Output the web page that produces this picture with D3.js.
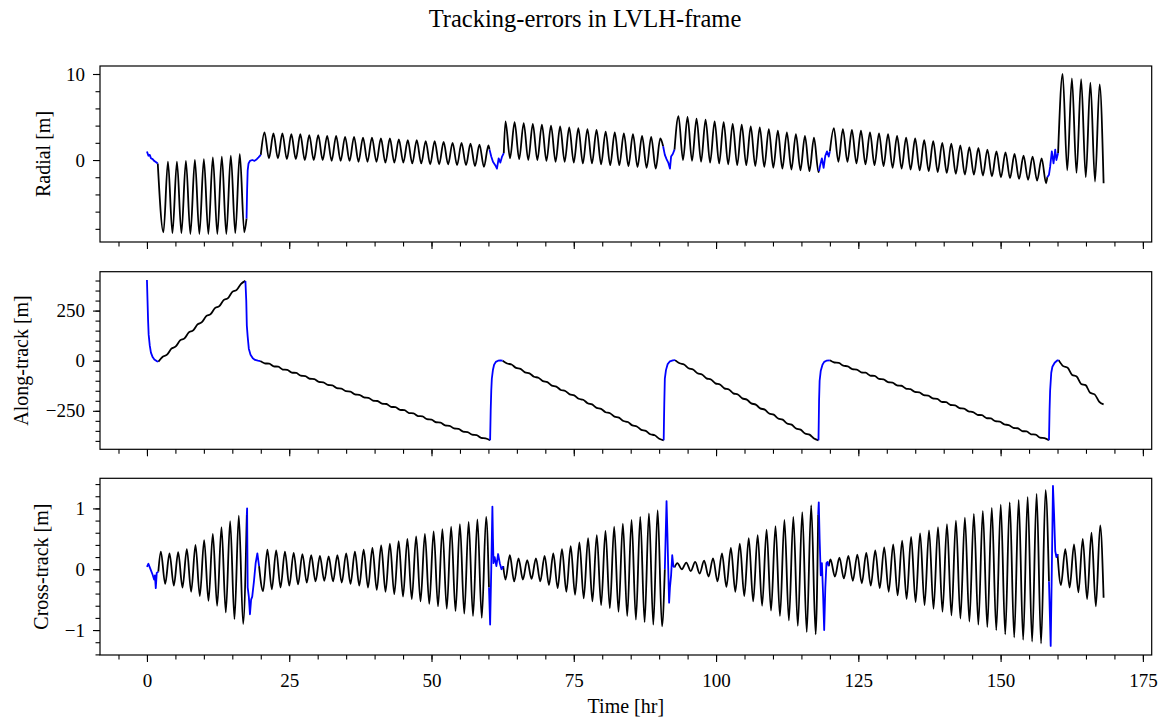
<!DOCTYPE html>
<html>
<head>
<meta charset="utf-8">
<script src="https://cdn.jsdelivr.net/npm/d3@7"></script>
<style>
body { margin: 0; background: #fff; }
svg { font-family: "Liberation Serif", "Times New Roman", serif; }
</style>
</head>
<body>
<svg id="chart" width="1163" height="720"></svg>
<script>
// ---- data ----
// time axis [hr]
var timeTicks = [0, 25, 50, 75, 100, 125, 150, 175];
var radialTicks = [0, 10];
var alongTicks = [-250, 0, 250];
var crossTicks = [-1, 0, 1];

// Radial [m]: blue stretches (manoeuvres) as [t, value]
var radialBlue = [
    [[0, 1.0], [0.26, 0.5], [0.5, 0.6], [0.7, 0.2], [1.0, 0.1], [1.26, -0.1], [1.5, -0.2], [1.9, -0.4]],
    [[17.5, -6.8], [17.6, -3.5], [17.7, -1.2], [17.85, -0.4], [18.1, -0.1], [18.5, 0.0], [18.9, -0.1], [19.3, 0.1], [19.6, 0.3], [20.0, 0.6]],
    [[60.2, 1.2], [60.5, 0.4], [60.8, -0.2], [61.2, -0.6], [61.5, -1.0], [61.8, 0.2], [62.1, -0.3], [62.4, 0.4], [62.7, 0.8]],
    [[90.7, 1.6], [91.0, 0.6], [91.3, 0.1], [91.6, -0.3], [91.9, -1.0], [92.1, 0.4], [92.4, 0.7], [92.7, 1.2]],
    [[118.1, -1.3], [118.3, -0.6], [118.6, 0.2], [118.9, -0.9], [119.2, 0.5], [119.5, 1.0], [119.8, 0.4], [120.0, 1.0]],
    [[158.2, -2.0], [158.5, -1.7], [158.7, -0.8], [159.0, 1.0], [159.3, -0.4], [159.6, 1.2], [159.8, 0.0], [160.1, 0.8]]
];
// time of first and last extremum of every black stretch
var radialTimes = [[2.9, 17.1], [20.65, 60.0], [63.0, 90.2], [93.4, 118.0], [120.7, 158.0], [160.9, 167.4]];
// successive peaks / troughs of every black stretch
var radialExtrema = [
    [-8.4, -0.2, -8.5, -0.2, -8.5, -0.1, -8.6, 0.0, -8.6, 0.1, -8.6, 0.3, -8.6, 0.4, -8.6, 0.5, -8.5, 0.7, -8.4],
    [3.2, 0.2, 3.1, 0.2, 3.1, 0.1, 3.0, 0.1, 3.0, 0.0, 2.9, 0.0, 2.9, 0.0, 2.8, -0.1, 2.8, -0.1, 2.7, -0.1, 2.7, -0.2, 2.6, -0.2, 2.6, -0.2,
     2.5, -0.3, 2.5, -0.3, 2.4, -0.3, 2.3, -0.4, 2.3, -0.4, 2.2, -0.5, 2.2, -0.5, 2.1, -0.5, 2.0, -0.6, 2.0, -0.6, 1.9, -0.7, 1.8, -0.8, 1.7],
    [4.5, 0.2, 4.4, 0.1, 4.3, 0.0, 4.2, 0.0, 4.1, -0.1, 4.0, -0.2, 3.9, -0.2, 3.8, -0.3, 3.7, -0.4, 3.6, -0.4, 3.5, -0.5, 3.3, -0.6,
     3.2, -0.6, 3.1, -0.7, 3.0, -0.8, 2.8, -0.9, 2.7, -1.0, 2.5],
    [5.1, 0.0, 5.0, -0.1, 4.8, -0.2, 4.7, -0.3, 4.5, -0.4, 4.4, -0.5, 4.2, -0.6, 4.1, -0.6, 3.9, -0.7, 3.8, -0.8, 3.6, -0.9, 3.4, -1.0,
     3.2, -1.1, 3.0, -1.2, 2.8, -1.3, 2.6, -1.4],
    [3.7, -0.2, 3.6, -0.2, 3.5, -0.4, 3.4, -0.5, 3.2, -0.6, 3.1, -0.7, 3.0, -0.9, 2.8, -1.0, 2.6, -1.1, 2.5, -1.2, 2.3, -1.3, 2.2, -1.4,
     2.0, -1.5, 1.9, -1.6, 1.7, -1.7, 1.5, -1.7, 1.4, -1.8, 1.2, -1.9, 1.0, -2.0, 0.9, -2.1, 0.7, -2.2, 0.5, -2.3, 0.4, -2.4, 0.2, -2.7],
    [10.0, -1.2, 9.5, -1.5, 9.4, -2.0, 9.0, -2.5, 8.8]
];
var radialLast = [168.1, -2.7];

// Along-track [m]
var alongBlue = [
    [[0, 403], [0.1, 300], [0.2, 200], [0.3, 130], [0.5, 75], [0.7, 40], [1.0, 18], [1.3, 6], [1.7, -2], [2.0, -5]],
    [[17.3, 398], [17.45, 300], [17.55, 175], [17.7, 120], [17.9, 60], [18.2, 30], [18.6, 12], [19.0, 4], [19.5, 0], [19.9, -2]],
    [[60.3, -397], [60.4, -250], [60.5, -150], [60.6, -90], [60.8, -45], [61.0, -20], [61.3, -6], [61.7, 0], [62.1, 2], [62.5, 0]],
    [[90.8, -397], [90.85, -300], [90.9, -220], [91.0, -90], [91.2, -47], [91.5, -17], [91.9, -3], [92.4, 2], [92.8, 3]],
    [[118.0, -397], [118.05, -300], [118.1, -200], [118.2, -100], [118.4, -50], [118.7, -20], [119.0, -6], [119.4, 0], [120.0, 2]],
    [[158.5, -397], [158.6, -250], [158.7, -150], [158.9, -60], [159.1, -30], [159.5, -10], [159.9, 0], [160.2, 3]]
];
var alongTimes = [[2.0, 17.3], [19.9, 60.3], [62.5, 90.8], [92.8, 118.0], [120.0, 158.5], [160.2, 168.1]];
// values every half orbit (small staircase on the drift)
var alongSteps = [
    [-5, 20, 30, 60, 71, 101, 111, 141, 151, 181, 192, 222, 232, 262, 272, 302, 312, 343, 353, 383, 398],
    [-2, -13, -15, -28, -30, -44, -46, -59, -61, -75, -77, -90, -92, -106, -108, -121, -123, -137, -139, -152, -154, -168, -170, -183, -185, -199,
     -201, -214, -216, -230, -232, -245, -247, -261, -263, -276, -278, -292, -294, -307, -309, -323, -325, -338, -340, -354, -356, -369, -371, -385, -387, -397],
    [0, -14, -19, -36, -41, -58, -63, -80, -85, -102, -107, -124, -129, -146, -151, -168, -173, -190, -195, -212, -218, -235, -240, -257, -262,
     -279, -284, -301, -306, -323, -328, -345, -350, -367, -372, -389, -397],
    [3, -13, -19, -38, -44, -63, -69, -88, -94, -113, -119, -138, -144, -163, -169, -188, -194, -213, -219, -238, -244, -263, -269, -288, -294,
     -313, -319, -338, -344, -363, -369, -388, -397],
    [2, -9, -11, -25, -28, -42, -44, -58, -60, -74, -76, -91, -93, -107, -109, -123, -125, -139, -142, -156, -158, -172, -174, -188, -190, -205,
     -207, -221, -223, -237, -239, -253, -256, -270, -272, -286, -288, -302, -304, -318, -321, -335, -337, -351, -353, -367, -369, -384, -386, -397],
    [3, -27, -35, -71, -79, -116, -122, -160, -168, -204, -218]
];
var alongLast = [168.1, -218];

// Cross-track [m]
var crossBlue = [
    [[0, 0.04], [0.26, 0.09], [0.5, 0.03], [0.67, -0.01], [1.0, -0.09], [1.26, -0.17], [1.4, -0.1], [1.55, -0.31], [1.72, -0.06], [2.0, -0.04]],
    [[17.55, 0.9], [17.6, 1.0], [17.65, 0.3], [17.7, -0.3], [17.9, -0.45], [18.1, -0.74], [18.3, -0.5], [18.5, -0.45], [18.8, -0.2], [19.1, 0.1], [19.4, 0.26], [19.7, 0.05]],
    [[60.1, -0.3], [60.3, -0.91], [60.5, 0.0], [60.7, 1.03], [60.8, 0.5], [60.9, 0.1], [61.1, 0.2], [61.4, 0.05], [61.7, 0.25], [62.0, 0.1], [62.3, 0.0], [62.6, 0.05]],
    [[91.0, 0.0], [91.3, 1.12], [91.45, 0.6], [91.6, 0.0], [91.75, -0.55], [91.9, -0.3], [92.1, -0.1], [92.3, 0.23], [92.5, 0.05], [92.7, 0.03]],
    [[117.95, 0.9], [118.05, 1.10], [118.2, 0.5], [118.4, -0.1], [118.6, 0.1], [118.8, -0.4], [119.0, -1.0], [119.2, -0.3], [119.4, 0.1], [119.6, 0.12], [119.8, 0.05]],
    [[158.5, -0.2], [158.8, -1.26], [159.0, 0.0], [159.2, 1.37], [159.4, 0.9], [159.6, 0.3], [159.8, 0.2], [160.0, 0.25]]
];
var crossTimes = [[2.44, 16.9], [20.4, 59.6], [63.0, 90.5], [93.2, 117.5], [120.1, 157.9], [160.6, 167.5]];
var crossExtrema = [
    [0.29, -0.24, 0.26, -0.27, 0.28, -0.30, 0.33, -0.37, 0.40, -0.44, 0.48, -0.52, 0.58, -0.60, 0.69, -0.71, 0.79, -0.82, 0.88, -0.90],
    [-0.36, 0.32, -0.33, 0.31, -0.30, 0.29, -0.27, 0.27, -0.25, 0.25, -0.22, 0.23, -0.20, 0.22, -0.19, 0.21, -0.20, 0.23, -0.22, 0.26,
     -0.24, 0.29, -0.27, 0.32, -0.30, 0.35, -0.34, 0.39, -0.37, 0.42, -0.41, 0.46, -0.45, 0.50, -0.49, 0.54, -0.53, 0.58, -0.57, 0.62,
     -0.61, 0.66, -0.65, 0.70, -0.69, 0.74, -0.73, 0.78, -0.77, 0.82, -0.80, 0.86],
    [-0.17, 0.23, -0.20, 0.18, -0.17, 0.15, -0.16, 0.18, -0.20, 0.22, -0.26, 0.26, -0.31, 0.33, -0.37, 0.38, -0.42, 0.44, -0.48, 0.51,
     -0.53, 0.56, -0.59, 0.63, -0.64, 0.70, -0.70, 0.75, -0.77, 0.81, -0.83, 0.86, -0.87, 0.92, -0.91, 0.97, -0.94],
    [0.10, 0.00, 0.11, -0.03, 0.12, -0.07, 0.14, -0.12, 0.18, -0.20, 0.26, -0.29, 0.35, -0.37, 0.42, -0.44, 0.51, -0.53, 0.56, -0.60,
     0.65, -0.68, 0.71, -0.77, 0.81, -0.84, 0.86, -0.93, 0.94, -1.03, 1.05, -1.07],
    [0.16, -0.12, 0.19, -0.15, 0.22, -0.19, 0.24, -0.23, 0.27, -0.27, 0.31, -0.31, 0.36, -0.37, 0.41, -0.43, 0.47, -0.49, 0.53, -0.54,
     0.59, -0.59, 0.64, -0.65, 0.69, -0.70, 0.74, -0.76, 0.80, -0.81, 0.85, -0.86, 0.91, -0.91, 0.96, -0.95, 1.01, -1.0, 1.06, -1.07,
     1.10, -1.12, 1.14, -1.16, 1.19, -1.19, 1.24, -1.22, 1.30],
    [-0.26, 0.33, -0.30, 0.41, -0.38, 0.50, -0.49, 0.60, -0.61, 0.72]
];
var crossLast = [168.1, -0.47];

// ---- layout ----
var svg = d3.select("#chart");
var left = 100, right = 1151.7;
var tickFont = 19, labelFont = 20;

var x = d3.scaleLinear().domain([-8.25, 176.55]).range([left, right]);

var panels = [
    {name: "Radial [m]", top: 66, bottom: 242, domain: [-9.53, 10.93], ticks: radialTicks, minor: 2,
     blue: radialBlue, times: radialTimes, values: radialExtrema, last: radialLast, labelX: 50},
    {name: "Along-track [m]", top: 271.7, bottom: 449.3, domain: [-442, 444], ticks: alongTicks, minor: 50,
     blue: alongBlue, times: alongTimes, values: alongSteps, last: alongLast, labelX: 27.5},
    {name: "Cross-track [m]", top: 478.3, bottom: 655, domain: [-1.41, 1.495], ticks: crossTicks, minor: 0.2,
     blue: crossBlue, times: crossTimes, values: crossExtrema, last: crossLast, labelX: 48}
];

function blackStretches(p) {
    var out = [];
    p.values.forEach(function (vals, i) {
        var ts = d3.scaleLinear().domain([0, vals.length - 1]).range(p.times[i]);
        var pts = [p.blue[i][p.blue[i].length - 1]];
        vals.forEach(function (v, j) { pts.push([ts(j), v]); });
        pts.push(i + 1 < p.blue.length ? p.blue[i + 1][0] : p.last);
        // keep time strictly increasing for the monotone curve
        var clean = [pts[0]];
        pts.slice(1).forEach(function (d) {
            if (d[0] > clean[clean.length - 1][0] + 1e-6) clean.push(d);
        });
        out.push(clean);
    });
    return out;
}

panels.forEach(function (p, k) {
    var y = d3.scaleLinear().domain(p.domain).range([p.bottom, p.top]);
    var g = svg.append("g");

    var line = d3.line()
        .x(function (d) { return x(d[0]); })
        .y(function (d) { return y(d[1]); })
        .curve(d3.curveMonotoneX);

    g.selectAll("path.black")
        .data(blackStretches(p))
        .enter().append("path")
        .attr("class", "black")
        .attr("d", line)
        .attr("fill", "none")
        .attr("stroke", "#000")
        .attr("stroke-width", 1.8)
        .attr("stroke-linejoin", "round");

    var blueLine = d3.line()
        .x(function (d) { return x(d[0]); })
        .y(function (d) { return y(d[1]); });

    g.selectAll("path.blue")
        .data(p.blue)
        .enter().append("path")
        .attr("class", "blue")
        .attr("d", blueLine)
        .attr("fill", "none")
        .attr("stroke", "#0000ff")
        .attr("stroke-width", 1.8)
        .attr("stroke-linejoin", "round");

    // y axis, major + minor
    var yMinor = d3.range(Math.ceil(p.domain[0] / p.minor), Math.floor(p.domain[1] / p.minor) + 1)
        .map(function (i) { return +(i * p.minor).toFixed(4); });
    var yMajor = p.ticks.filter(function (v) { return v >= p.domain[0] && v <= p.domain[1]; });

    var ya = g.append("g").attr("transform", "translate(" + left + ",0)")
        .call(d3.axisLeft(y).tickValues(yMinor).tickSize(4.5).tickFormat(""));
    ya.select(".domain").remove();
    var yb = g.append("g").attr("transform", "translate(" + left + ",0)")
        .call(d3.axisLeft(y).tickValues(yMajor).tickSize(7).tickPadding(8).tickFormat(d3.format("d")));
    yb.select(".domain").remove();
    yb.selectAll("text").attr("font-size", tickFont).attr("font-family", "Liberation Serif");

    // x axis (labels only on last panel)
    var xMinor = d3.range(-5, 177, 5);
    var xa = g.append("g").attr("transform", "translate(0," + p.bottom + ")")
        .call(d3.axisBottom(x).tickValues(xMinor).tickSize(4.5).tickFormat(""));
    xa.select(".domain").remove();
    var xb = g.append("g").attr("transform", "translate(0," + p.bottom + ")")
        .call(d3.axisBottom(x).tickValues(timeTicks).tickSize(7).tickPadding(12)
            .tickFormat(k === panels.length - 1 ? d3.format("d") : ""));
    xb.select(".domain").remove();
    xb.selectAll("text").attr("font-size", tickFont).attr("font-family", "Liberation Serif");

    g.selectAll(".tick line").attr("stroke", "#000").attr("stroke-width", 1.1);

    g.append("rect")
        .attr("x", left).attr("y", p.top)
        .attr("width", right - left).attr("height", p.bottom - p.top)
        .attr("fill", "none").attr("stroke", "#000").attr("stroke-width", 1.2);

    g.append("text")
        .attr("transform", "translate(" + p.labelX + "," + ((p.top + p.bottom) / 2) + ") rotate(-90)")
        .attr("text-anchor", "middle")
        .attr("font-size", labelFont)
        .text(p.name);
});

svg.append("text")
    .attr("x", (left + right) / 2).attr("y", 713)
    .attr("text-anchor", "middle")
    .attr("font-size", labelFont)
    .text("Time [hr]");

svg.append("text")
    .attr("x", 585).attr("y", 27)
    .attr("text-anchor", "middle")
    .attr("font-size", 24.5)
    .text("Tracking-errors in LVLH-frame");
</script>
</body>
</html>
